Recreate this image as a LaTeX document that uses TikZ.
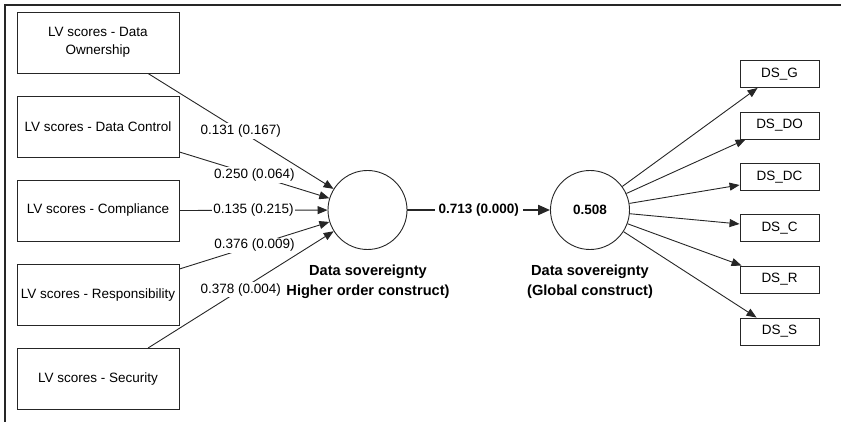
\documentclass[tikz,border=0pt]{standalone}
\usepackage{fontspec}
\setmainfont{Liberation Sans}
\usetikzlibrary{arrows.meta,calc}
\begin{document}
\begin{tikzpicture}[x=1pt,y=-1pt,
 lvbox/.style={draw=black!85, line width=0.9pt, minimum width=162pt, minimum height=61pt, align=center, inner sep=2pt, font=\fontsize{13.5}{18}\selectfont},
 dsbox/.style={draw=black!85, line width=0.9pt, minimum width=79pt, minimum height=27pt, inner sep=0pt, font=\fontsize{13.5}{16}\selectfont},
 lv/.style={draw=black!85, line width=0.9pt, circle, minimum size=79pt, inner sep=0pt, font=\bfseries\fontsize{13.5}{16}\selectfont},
 conn/.style={draw=black!85, line width=0.9pt, -{Triangle[length=10pt,width=8pt]}},
 elabel/.style={fill=white, inner sep=1.5pt, font=\fontsize{13.5}{16}\selectfont},
 clabel/.style={align=center, inner sep=0pt, font=\bfseries\fontsize{14.6}{20}\selectfont}]
\useasboundingbox (0,0) rectangle (841,422);
\draw[line width=1.4pt, black!85] (5,422) -- (5,5) -- (841,5);

\node[lvbox] (b1) at (98,42.5) {LV scores - Data\\Ownership};
\node[lvbox] (b2) at (98,127) {LV scores - Data Control};
\node[lvbox] (b3) at (98,210.5) {LV scores - Compliance};
\node[lvbox] (b4) at (98,295) {LV scores - Responsibility};
\node[lvbox] (b5) at (98,379) {LV scores - Security};

\node[lv] (c1) at (367.5,210) {};
\node[lv] (c2) at (590,210) {0.508};
\node[clabel] (l1) at (368,282) {Data sovereignty\\Higher order construct)};
\node[clabel] (l2) at (590,282) {Data sovereignty\\(Global construct)};

\node[dsbox] (dsg) at (779.5,74) {DS\_G};
\node[dsbox] (dsdo) at (779.5,125.5) {DS\_DO};
\node[dsbox] (dsdc) at (779.5,177) {DS\_DC};
\node[dsbox] (dsc) at (779.5,228) {DS\_C};
\node[dsbox] (dsr) at (779.5,279.5) {DS\_R};
\node[dsbox] (dss) at (779.5,331.5) {DS\_S};

\coordinate (o1) at ($(b1.south)+(50,0)$);
\coordinate (o2) at ($(b2.east)+(0,25)$);
\coordinate (o4) at ($(b4.east)+(0,-26)$);
\coordinate (o5) at ($(b5.north)+(50,0)$);

\draw[conn] (o1) -- (c1) node[pos=0.5,elabel] {0.131 (0.167)};
\draw[conn] (o2) -- (c1) node[pos=0.5,elabel] {0.250 (0.064)};
\draw[conn] (b3.east) -- (c1) node[pos=0.5,elabel] {0.135 (0.215)};
\draw[conn] (o4) -- (c1) node[pos=0.5,elabel] {0.376 (0.009)};
\draw[conn] (o5) -- (c1) node[pos=0.5,elabel] {0.378 (0.004)};

\draw[draw=black!85, line width=2pt, -{Triangle[length=12pt,width=10pt]}] (c1) -- (c2)
  node[midway, fill=white, inner sep=4pt, font=\bfseries\fontsize{13.5}{16}\selectfont] {0.713 (0.000)};

\coordinate (tg) at ($(dsg.south west)+(18,0)$);
\coordinate (tdo) at ($(dsdo.south west)+(6,0)$);
\coordinate (tdc) at ($(dsdc.west)+(0,8)$);
\coordinate (tc) at ($(dsc.west)+(0,-4)$);
\coordinate (tr) at ($(dsr.north west)+(2,0)$);
\coordinate (ts) at ($(dss.north west)+(17,0)$);

\draw[conn] (c2) -- (tg);
\draw[conn] (c2) -- (tdo);
\draw[conn] (c2) -- (tdc);
\draw[conn] (c2) -- (tc);
\draw[conn] (c2) -- (tr);
\draw[conn] (c2) -- (ts);
\end{tikzpicture}
\end{document}
